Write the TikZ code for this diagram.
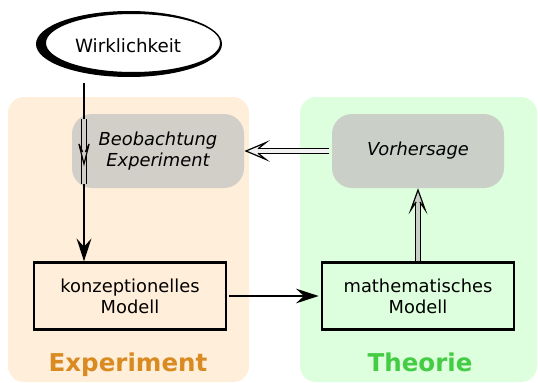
\documentclass[tikz,border=0pt]{standalone}
\usepackage{fontspec}
\setmainfont{DejaVu Sans}
\usetikzlibrary{arrows.meta}

\definecolor{expfill}{RGB}{255,238,218}
\definecolor{theofill}{RGB}{221,255,221}
\definecolor{expfont}{RGB}{217,138,32}
\definecolor{theofont}{RGB}{68,204,68}
\definecolor{obsgray}{RGB}{210,206,200}
\definecolor{predgray}{RGB}{202,208,200}

\tikzset{
  softbox/.style={rounded corners=15pt, minimum width=129pt, minimum height=55.5pt,
    align=center, font=\fontsize{13.4}{16}\selectfont\itshape},
  modelbox/.style={draw, line width=2pt, minimum width=144pt, minimum height=50pt,
    align=center, font=\fontsize{13.4}{16}\selectfont},
  panellabel/.style={anchor=base, font=\fontsize{18.4}{20}\selectfont\bfseries},
  flow/.style={line width=2pt, -{Stealth[length=17pt, width=11pt, inset=6pt]}},
  shaft/.style={double, double distance=2.4pt, line width=0.9pt},
  implhead/.pic={
    \fill[pic actions] (0,0) -- (-20,-8.5) -- (-12,-2.2) -- (-12,2.2) -- (-20,8.5) -- cycle;
    \draw[line width=0.9pt] (-12,-2.2) -- (-20,-8.5) -- (0,0) -- (-20,8.5) -- (-12,2.2);
  }
}

\begin{document}
\begin{tikzpicture}[x=0.75pt,y=0.75pt,yscale=-1,xscale=1]
\useasboundingbox (0,0) rectangle (538,382);

%Panels
\fill[expfill, rounded corners=12pt] (8,97) rectangle (249,382);
\fill[theofill, rounded corners=12pt] (300,97) rectangle (537,382);

%Brush ellipse
\fill[black, even odd rule] (129,44) ellipse [x radius=93, y radius=33]
  (133,43) ellipse [x radius=87, y radius=29];
\node[font=\fontsize{13.7}{16}\selectfont] (wirk) at (128,46) {Wirklichkeit};

%Boxes
\node[softbox, fill=obsgray] (obs) at (158,151) {Beobachtung\\Experiment};
\node[softbox, fill=predgray] (pred) at (418,151) {Vorhersage};
\node[modelbox] (konz) at (130,296) {konzeptionelles\\Modell};
\node[modelbox] (math) at (418,296) {mathematisches\\Modell};

% Text Node
\node[panellabel, text=expfont] (explbl) at (128,371) {Experiment};
\node[panellabel, text=theofont] (theolbl) at (420,371) {Theorie};

%Arrows
\coordinate (wirkfoot) at (84,83);
\coordinate (obstop) at (84,119);
\coordinate (obstip) at (84,164);
\coordinate (obsbot) at (84,184);
\coordinate (obsin) at (246,151);
\coordinate (obsneck) at (258,151);
\coordinate (predin) at (418,190);
\coordinate (predneck) at (418,202);

\draw[flow] (wirkfoot) -- (konz.north -| wirkfoot);
\draw[shaft, double=obsgray] (obstop) -- (obsbot);
\pic[fill=obsgray, rotate=-90, yscale=0.6] at (obstip) {implhead};

\draw[shaft, double=white!90!gray] ([xshift=-2pt]pred.west) -- (obsneck);
\pic[fill=white!90!gray, rotate=180] at (obsin) {implhead};

\draw[shaft, double=predgray] (math.north) -- (predneck);
\pic[fill=predgray, rotate=90, yscale=0.85] at (predin) {implhead};

\draw[flow] ([xshift=1.5pt]konz.east) -- ([xshift=-1.5pt]math.west);

\end{tikzpicture}
\end{document}
